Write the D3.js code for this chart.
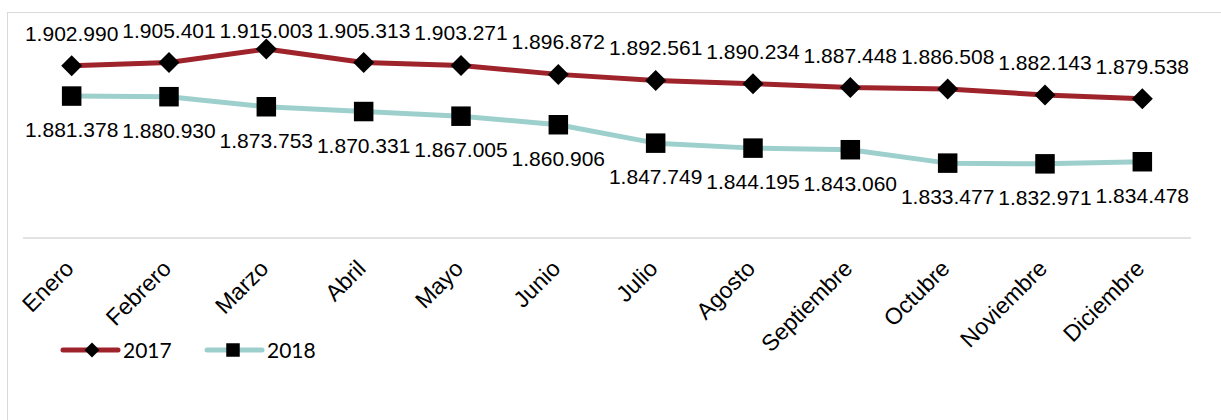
<!DOCTYPE html>
<html>
<head>
<meta charset="utf-8">
<script src="https://cdn.jsdelivr.net/npm/d3@7"></script>
<style>
  html, body { margin: 0; padding: 0; background: #fff; }
  svg { display: block; }
</style>
</head>
<body>
<svg id="chart" width="1221" height="420"></svg>
<script>
// Monthly totals, two years
const months = ["Enero", "Febrero", "Marzo", "Abril", "Mayo", "Junio", "Julio",
  "Agosto", "Septiembre", "Octubre", "Noviembre", "Diciembre"];
const values2017 = [1902990, 1905401, 1915003, 1905313, 1903271, 1896872,
  1892561, 1890234, 1887448, 1886508, 1882143, 1879538];
const values2018 = [1881378, 1880930, 1873753, 1870331, 1867005, 1860906,
  1847749, 1844195, 1843060, 1833477, 1832971, 1834478];
const seriesNames = ["2017", "2018"];

const svg = d3.select("#chart");
const W = 1221, H = 420;

const colors = { "2017": "#9e232b", "2018": "#9dd0cd" };
const numFont = "'Liberation Sans', Arial, sans-serif";

// Spanish number format: 1.902.990
const es = d3.formatLocale({ decimal: ",", thousands: ".", grouping: [3], currency: ["", ""] });
const fmt = es.format(",d");

// Chart frame
svg.append("rect")
  .attr("x", 7.5).attr("y", 12.5)
  .attr("width", W + 20).attr("height", H + 20)
  .attr("fill", "#fff").attr("stroke", "#d9d9d9").attr("stroke-width", 1);

const x = d3.scalePoint().domain(months).range([23, 1191]).padding(0.5);
const y = d3.scaleLinear().domain([1780000, 1940000]).range([238, 14]);

// Category axis: baseline only, rotated labels
const axis = svg.append("g").attr("transform", "translate(0,238)")
  .call(d3.axisBottom(x).tickSize(0).tickPadding(0));
axis.select(".domain").attr("stroke", "#d9d9d9").attr("stroke-width", 1.5)
  .attr("d", "M23,0H1191");
axis.selectAll(".tick text")
  .attr("font-family", numFont).attr("font-size", 23).attr("fill", "#000")
  .attr("text-anchor", "end")
  .attr("dy", null).attr("y", null)
  .attr("transform", "translate(3,32) rotate(-45)");

const line = d3.line().x((d, i) => x(months[i])).y(d => y(d));

const series = [
  { name: "2017", values: values2017 },
  { name: "2018", values: values2018 }
];

const diamond = r => `M0,${-r}L${r},0L0,${r}L${-r},0Z`;
const square = s => `M${-s / 2},${-s / 2}h${s}v${s}h${-s}Z`;

series.forEach(s => {
  svg.append("path").datum(s.values)
    .attr("d", line)
    .attr("fill", "none")
    .attr("stroke", colors[s.name])
    .attr("stroke-width", 5)
    .attr("stroke-linejoin", "round");
});

series.forEach(s => {
  const g = svg.append("g");
  g.selectAll("path.mk").data(s.values).join("path")
    .attr("class", "mk")
    .attr("transform", (d, i) => `translate(${x(months[i])},${y(d)})`)
    .attr("d", s.name === "2017" ? diamond(10.5) : square(19.5))
    .attr("fill", "#000");
});

// Value labels: 2017 above, 2018 below
svg.append("g").selectAll("text").data(values2017).join("text")
  .attr("x", (d, i) => x(months[i]))
  .attr("y", d => Math.max(y(d) - 25, 38))
  .attr("text-anchor", "middle")
  .attr("font-family", numFont).attr("font-size", 21).attr("fill", "#000")
  .text(d => fmt(d));

svg.append("g").selectAll("text").data(values2018).join("text")
  .attr("x", (d, i) => x(months[i]))
  .attr("y", d => y(d) + 41)
  .attr("text-anchor", "middle")
  .attr("font-family", numFont).attr("font-size", 21).attr("fill", "#000")
  .text(d => fmt(d));

// Legend
const legend = svg.append("g").attr("transform", "translate(0,350)");
const legendX = [63, 207];
seriesNames.forEach((name, i) => {
  const lg = legend.append("g").attr("transform", `translate(${legendX[i]},0)`);
  lg.append("line").attr("x1", 0).attr("x2", 55).attr("y1", 0).attr("y2", 0)
    .attr("stroke", colors[name]).attr("stroke-width", 5).attr("stroke-linecap", "round");
  lg.append("path")
    .attr("transform", `translate(${i === 0 ? 29 : 26},0)`)
    .attr("d", name === "2017" ? diamond(7.5) : square(13.5))
    .attr("fill", "#000");
  lg.append("text").attr("x", 60).attr("y", 7.5)
    .attr("font-family", "Lato, 'Open Sans', sans-serif").attr("font-size", 21)
    .attr("fill", "#000").text(name);
});
</script>
</body>
</html>
